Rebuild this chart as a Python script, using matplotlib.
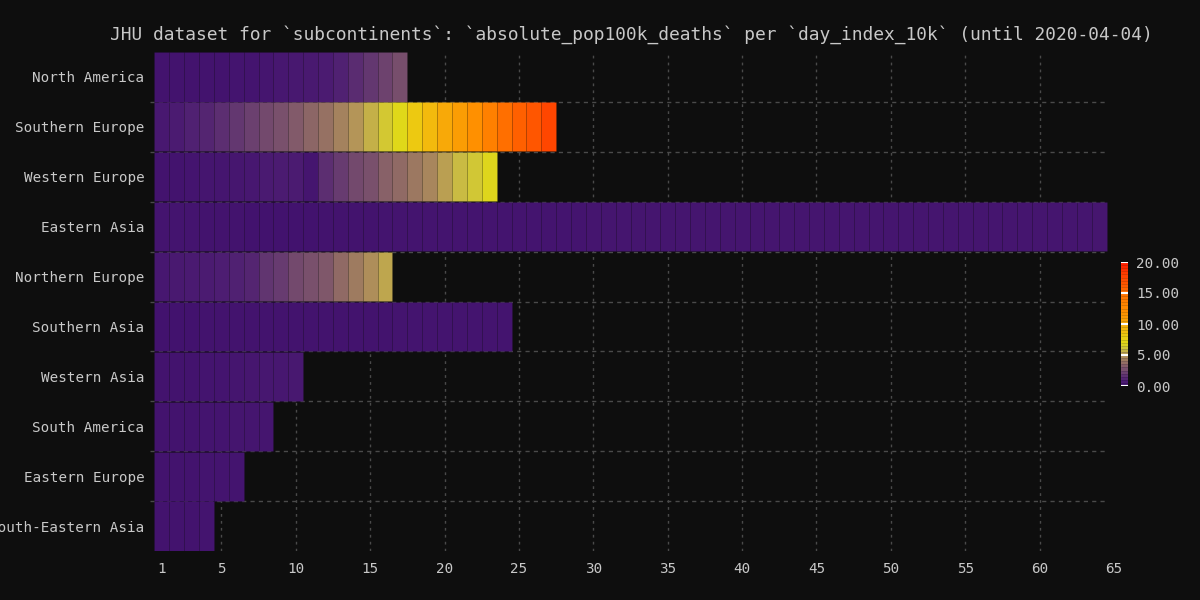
import numpy as np
import matplotlib
matplotlib.use("Agg")
import matplotlib.pyplot as plt
from matplotlib.colors import LinearSegmentedColormap, Normalize
from matplotlib.cm import ScalarMappable

# ---------------- data ----------------
regions = ["North America", "Southern Europe", "Western Europe", "Eastern Asia",
           "Northern Europe", "Southern Asia", "Western Asia", "South America",
           "Eastern Europe", "South-Eastern Asia"]

north_america = [0.15, 0.12, 0.08, 0.12, 0.15, 0.18, 0.22, 0.28, 0.40, 0.50,
                 0.60, 0.80, 1.15, 1.50, 1.90, 2.30, 2.70]
southern_europe = [0.5, 0.8, 1.1, 1.3, 1.6, 1.9, 2.2, 2.5, 2.8, 3.1, 3.5, 3.9,
                   4.4, 5.0, 5.7, 6.4, 7.0, 8.2, 9.1, 10.0, 11.0, 12.0, 13.5,
                   15.0, 16.0, 16.6, 17.5]
western_europe = [0.10, 0.15, 0.20, 0.25, 0.30, 0.35, 0.40, 0.70, 0.80, 0.85,
                  0.30, 1.6, 2.1, 2.5, 2.8, 3.3, 3.6, 4.1, 4.6, 5.3, 5.9, 6.3, 6.9]
eastern_asia = [0.20, 0.18, 0.16, 0.15, 0.10, 0.08, 0.06, 0.05, 0.05, 0.06,
                0.07, 0.08, 0.09, 0.14, 0.15, 0.16, 0.17, 0.18, 0.19, 0.20,
                0.20, 0.21, 0.21, 0.22, 0.22, 0.22, 0.23, 0.23, 0.23, 0.24,
                0.24, 0.24, 0.25, 0.25, 0.25, 0.25, 0.26, 0.26, 0.26, 0.26,
                0.27, 0.27, 0.27, 0.27, 0.28, 0.28, 0.28, 0.28, 0.28, 0.29,
                0.29, 0.29, 0.29, 0.29, 0.30, 0.30, 0.30, 0.30, 0.30, 0.31,
                0.31, 0.31, 0.31, 0.32]
northern_europe = [0.45, 0.55, 0.70, 0.85, 1.0, 1.15, 1.3, 1.8, 2.1, 2.5, 2.8,
                   3.0, 3.6, 4.2, 4.8, 5.4]
southern_asia = [0.05, 0.06, 0.07, 0.08, 0.09, 0.10, 0.10, 0.11, 0.12, 0.12,
                 0.13, 0.13, 0.14, 0.14, 0.15, 0.15, 0.16, 0.16, 0.17, 0.17,
                 0.18, 0.18, 0.19, 0.20]
western_asia = [0.10, 0.12, 0.15, 0.18, 0.22, 0.30, 0.35, 0.40, 0.45, 0.50]
south_america = [0.10, 0.12, 0.15, 0.18, 0.20, 0.24, 0.27, 0.30]
eastern_europe = [0.10, 0.12, 0.14, 0.16, 0.18, 0.20]
south_eastern_asia = [0.10, 0.12, 0.14, 0.16]

series = [north_america, southern_europe, western_europe, eastern_asia,
          northern_europe, southern_asia, western_asia, south_america,
          eastern_europe, south_eastern_asia]

x_ticks = [1, 5, 10, 15, 20, 25, 30, 35, 40, 45, 50, 55, 60, 65]
cbar_ticks = [0, 5, 10, 15, 20]

# ---------------- style ----------------
BG = "#0e0e0e"
FG = "#c8c8c8"
GRID = "#4a4a4a"
FONT = "DejaVu Sans Mono"

cmap_nodes = [(0, "#42126e"), (1, "#4e1e72"), (2, "#663a70"), (3, "#80586a"),
              (4, "#9a7662"), (5, "#b49458"), (6, "#ccc040"), (7, "#e0d818"),
              (8, "#eccc12"), (9, "#f2bc0e"), (10, "#f8aa08"), (12, "#ff9000"),
              (15, "#ff7000"), (17, "#ff5000"), (20, "#ff1c00")]
vmax = 20.0
cmap = LinearSegmentedColormap.from_list(
    "custom", [(v / vmax, c) for v, c in cmap_nodes])
norm = Normalize(vmin=0, vmax=vmax)

fig = plt.figure(figsize=(12, 6), dpi=100, facecolor=BG)
ax = fig.add_axes([150 / 1200, 1 - 551 / 600, (1114 - 150) / 1200, (551 - 52) / 600])
ax.set_facecolor(BG)

# grid (behind bars)
for xt in x_ticks[1:-1]:
    ax.axvline(xt, color=GRID, lw=1, ls=(0, (2, 3)), zorder=0)
ax.hlines(np.arange(len(regions) - 1) + 0.5, 0.2, 64.5, color=GRID, lw=1,
          ls=(0, (3, 3)), zorder=0)

for i, vals in enumerate(series):
    vals = np.asarray(vals)
    days = np.arange(1, len(vals) + 1)
    ax.barh(np.full(len(vals), i), np.ones(len(vals)), left=days - 0.5,
            height=0.985, color=cmap(norm(vals)), edgecolor=(0, 0, 0, 0.05),
            linewidth=0.6, zorder=2)

ax.set_xlim(0.2, 65)
ax.set_ylim(len(regions) - 0.5, -0.5)
ax.set_yticks(range(len(regions)))
ax.set_yticklabels(regions)
ax.set_xticks(x_ticks)
ax.set_xticklabels([str(t) for t in x_ticks])
ax.tick_params(length=0, colors=FG, labelsize=10.3)
ax.tick_params(axis="y", pad=4)
ax.tick_params(axis="x", pad=8)
for lab in ax.get_xticklabels() + ax.get_yticklabels():
    lab.set_fontfamily(FONT)
for s in ax.spines.values():
    s.set_visible(False)

fig.text(0.526, 1 - 35 / 600,
         "JHU dataset for `subcontinents`: `absolute_pop100k_deaths` per "
         "`day_index_10k` (until 2020-04-04)",
         ha="center", va="center", color=FG, fontsize=12.9, family=FONT)

# colorbar
cax = fig.add_axes([1121 / 1200, 1 - 386 / 600, 7 / 1200, 124 / 600])
sm = ScalarMappable(norm=norm, cmap=cmap)
cb = fig.colorbar(sm, cax=cax, boundaries=np.linspace(0, vmax, 41),
                  drawedges=True)
cb.dividers.set_color((0, 0, 0, 0.2))
cb.dividers.set_linewidth(0.5)
cb.outline.set_visible(False)
cax.hlines(cbar_ticks, 0, 1, color="white", lw=1.5, zorder=5,
           transform=cax.get_yaxis_transform())
cb.set_ticks(cbar_ticks)
cb.set_ticklabels([f"{t:.2f}" for t in cbar_ticks])
cax.tick_params(length=0, colors=FG, labelsize=10.3, pad=6)
for lab in cax.get_yticklabels():
    lab.set_fontfamily(FONT)

fig.savefig("out.png", dpi=100, facecolor=BG)
